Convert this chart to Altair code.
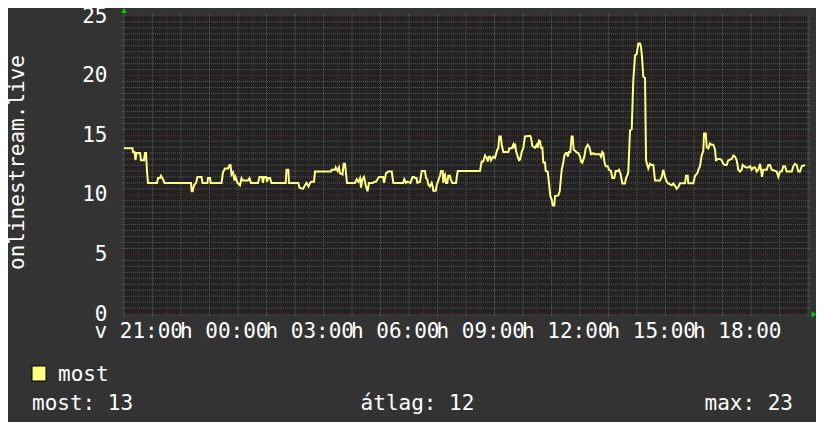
import altair as alt
import pandas as pd

# time = minutes since Sunday 20:30, value = listeners
seg_a_min = [0, 17.9, 18.9, 22.1, 24.2, 26.3, 33.7, 35.8, 42.1, 44.2, 46.3, 48.4, 50.5, 69.5, 71.6, 75.8, 77.9, 82.1, 85.3]
seg_a_val = [13.9, 13.9, 13.6, 13.6, 12.9, 13.5, 13.5, 12.9, 12.9, 13.5, 13.5, 12.0, 11.0, 11.0, 11.4, 11.4, 11.6, 11.3, 11.0]

seg_b_min = [141.1, 142.5, 144.6, 147.4, 151.6, 154.7, 163.2, 165.3, 175.8, 176.8, 181.1, 182.7, 205.3, 208.4, 212.6,
             218.9, 222.1, 224.2, 226.3, 229.5, 232.6, 234.7, 238.9, 244.2, 247.4, 250.5, 261.1, 264.2, 267.4, 275.8]
seg_b_val = [11.0, 10.3, 10.3, 10.8, 11.0, 11.5, 11.5, 11.0, 11.0, 11.4, 11.4, 11.0, 11.0, 11.9, 12.2,
             12.2, 12.5, 12.5, 11.7, 11.9, 11.2, 11.5, 11.0, 10.8, 11.4, 11.2, 11.2, 11.4, 11.0, 11.0]

seg_c_min = [282.1, 285.3, 290.5, 292.6, 294.7, 299.0, 301.1, 303.2, 307.4, 310.5, 340.4, 342.1, 345.9, 347.4, 367.0,
             369.5, 376.8, 381.1, 384.2, 388.4, 391.6, 394.7, 400.0, 402.1, 435.8, 437.3, 444.2, 445.7, 449.5, 452.6,
             454.7, 460.0, 462.5, 465.3, 467.4, 469.5, 486.3, 489.9, 493.3, 496.9, 499.0, 501.7, 505.3, 508.9, 512.6,
             515.8, 524.2, 527.4, 530.5, 536.8, 545.3, 547.4, 551.6, 556.4, 563.6, 567.0]
seg_c_val = [11.0, 11.5, 11.5, 11.0, 11.5, 11.5, 11.1, 11.4, 11.4, 11.0, 11.0, 12.1, 12.1, 11.0, 11.0,
             10.6, 10.5, 10.8, 11.0, 10.7, 11.0, 11.1, 11.1, 11.95, 11.95, 12.1, 12.1, 12.3, 12.0, 12.3,
             11.8, 11.7, 12.6, 12.6, 11.8, 11.0, 11.0, 11.3, 11.1, 11.4, 10.6, 11.3, 11.5, 10.8, 10.3,
             11.0, 11.0, 11.1, 11.1, 11.5, 11.5, 11.0, 11.8, 11.95, 11.95, 11.0]

seg_d_min = [588.0, 590.1, 593.7, 596.4, 603.2, 607.4, 610.5, 612.6, 615.8, 617.5, 623.2, 626.8, 633.7, 635.8, 638.5,
             640.7, 644.2, 647.8, 649.9, 651.2, 656.2, 658.3, 661.7, 665.3, 667.4, 671.0, 672.2, 674.3, 675.8, 677.9,
             680.6, 682.7, 686.3, 687.8, 691.2, 699.0, 702.5, 749.5, 753.1, 756.4, 760.0, 763.6, 765.7, 767.8, 770.5,
             772.6, 777.5, 781.1, 783.2, 785.9, 788.0, 790.1, 793.1, 795.2, 798.6, 809.1, 811.2, 816.2, 819.6, 821.1,
             823.2, 825.3, 828.9, 831.6, 833.7, 837.3, 840.6, 844.2, 854.8]
seg_d_val = [11.0, 11.3, 11.0, 11.1, 11.0, 11.5, 11.5, 11.4, 11.4, 11.0, 11.1, 12.0, 12.0, 11.4, 11.3,
             10.85, 10.7, 11.0, 10.7, 10.35, 10.35, 10.8, 11.2, 11.6, 12.0, 12.0, 11.0, 11.6, 11.7, 11.0,
             11.0, 11.6, 11.6, 11.3, 11.0, 11.0, 12.0, 12.0, 12.8, 12.8, 13.3, 13.1, 12.8, 13.2, 13.2,
             12.9, 13.2, 13.1, 13.4, 13.8, 13.9, 14.9, 14.9, 14.2, 13.6, 13.6, 13.9, 13.9, 14.2, 13.9,
             14.3, 13.7, 13.2, 12.9, 12.95, 13.6, 13.9, 14.9, 14.95]

seg_e_min = [856.9, 859.6, 865.3, 868.9, 870.9, 873.7, 875.8, 877.9, 880.7, 882.8, 886.3, 887.8, 892.0, 894.7, 897.5,
             900.4, 902.5, 905.9, 907.4, 914.3, 917.3, 921.5, 924.8, 927.0, 929.9, 932.6, 934.1, 936.8, 939.6, 942.5,
             944.6, 946.7, 949.5, 953.1, 956.4, 960.0, 962.1, 964.9, 969.1, 972.0, 976.2, 979.0, 981.1, 983.2, 988.0,
             991.6, 1002.1, 1004.2, 1007.0, 1009.1, 1011.2, 1014.1, 1018.3, 1021.1, 1025.3, 1028.0, 1032.2, 1035.2,
             1039.4, 1042.1, 1045.7, 1049.1, 1054.8, 1056.9, 1060.4]
seg_e_val = [14.8, 14.1, 13.95, 14.2, 13.95, 14.55, 14.5, 13.95, 13.95, 12.7, 12.7, 12.0, 11.95, 11.0, 9.9,
             9.6, 9.1, 9.1, 9.9, 9.95, 10.3, 12.1, 12.7, 13.3, 13.5, 13.5, 13.2, 13.6, 13.6, 14.9,
             14.9, 13.8, 13.7, 13.55, 13.5, 13.2, 12.8, 12.7, 13.2, 13.9, 14.2, 14.05, 13.8, 13.4, 13.5,
             13.4, 13.4, 13.2, 13.6, 13.5, 12.8, 12.4, 12.4, 12.1, 12.0, 11.4, 11.4, 12.0,
             12.0, 12.1, 11.7, 10.95, 10.95, 11.4, 11.7]

seg_f_min = [1061.7, 1065.3, 1068.9, 1072.2, 1075.8, 1079.4, 1082.8, 1086.3, 1088.4, 1090.5, 1093.3, 1096.9, 1099.0,
             1101.7, 1103.8, 1107.4, 1111.0, 1114.3, 1117.9, 1128.4, 1132.0, 1135.4, 1138.9, 1142.5, 1145.9, 1153.1,
             1156.4, 1160.0, 1163.6, 1166.9, 1170.5, 1181.1, 1183.2, 1186.7, 1188.0, 1198.5, 1202.1, 1207.0, 1209.1,
             1212.6, 1216.2, 1219.6, 1221.1, 1224.7, 1226.8, 1230.2, 1233.7, 1237.3, 1240.7, 1244.2, 1246.3, 1251.2,
             1254.7, 1258.3, 1261.7, 1265.3, 1268.8, 1272.2, 1279.4, 1282.8, 1286.3, 1289.9, 1293.3, 1296.8, 1300.4,
             1302.5, 1305.3, 1309.5, 1314.3, 1317.9, 1321.5, 1324.9, 1328.4, 1332.0, 1335.4, 1339.0, 1341.1, 1343.2,
             1345.9, 1353.1, 1356.4, 1360.0, 1363.6, 1374.1, 1377.5, 1381.1, 1384.6, 1388.0, 1391.6, 1395.2, 1405.7,
             1409.1, 1412.6, 1416.2, 1419.6, 1423.2, 1426.8, 1433.7]
seg_f_val = [11.95, 15.4, 15.5, 19.6, 21.7, 21.8, 22.7, 22.7, 22.4, 21.6, 19.9, 19.8, 12.9,
             12.5, 12.2, 12.6, 12.5, 12.5, 11.2, 11.2, 11.5, 12.1, 11.5, 11.1, 10.96, 10.8,
             10.96, 10.75, 10.5, 10.65, 10.96, 10.96, 11.6, 11.6, 10.96, 10.96, 11.6, 11.8, 12.1,
             12.4, 13.3, 13.7, 15.15, 15.15, 14.0, 13.9, 14.3, 14.2, 14.2, 13.8, 12.9, 13.0,
             13.0, 12.9, 12.6, 12.5, 12.5, 12.9, 13.0, 13.3, 13.2, 12.9, 12.1, 11.95, 12.1,
             12.5, 12.4, 12.3, 12.3, 12.4, 12.1, 12.3, 12.3, 11.95, 12.1, 12.6, 12.1, 11.5,
             12.1, 12.1, 12.5, 12.5, 12.1, 11.95, 11.5, 11.95, 11.95, 12.4, 12.4, 11.95, 11.95,
             12.4, 12.6, 12.5, 11.95, 11.95, 12.4, 12.5]

x_tick_minutes = [30, 210, 390, 570, 750, 930, 1110, 1290]
x_tick_labels = ["v 21:00", "h 00:00", "h 03:00", "h 06:00", "h 09:00", "h 12:00", "h 15:00", "h 18:00"]
y_ticks = [0, 5, 10, 15, 20, 25]
y_title = "onlinestream.live"
series_name = "most"
stat_names = ["most", "átlag", "max"]
stat_values = [13, 12, 23]

times = seg_a_min + seg_b_min + seg_c_min + seg_d_min + seg_e_min + seg_f_min
vals = seg_a_val + seg_b_val + seg_c_val + seg_d_val + seg_e_val + seg_f_val
assert len(times) == len(vals), (len(times), len(vals))
line_df = pd.DataFrame({"m": times, "v": vals})

# grid positions (data units)
minor_x = [m for m in range(0, 1441, 30) if (m - 30) % 60 != 0]
major_x = [m for m in range(30, 1440, 60)]
minor_y = [k / 2 for k in range(0, 51) if k % 10 != 0]
major_y = [k for k in range(0, 26, 5)]

FONT = "DejaVu Sans Mono"
WHITE = "#ffffff"
LINE_COLOR = "#ffff80"
MINOR_GRID = "#5a5a5a"
MAJOR_GRID = "#5c2c2c"
W, H = 684, 298

xscale = alt.Scale(domain=[0, 1440], nice=False, zero=False)
yscale = alt.Scale(domain=[0, 25], nice=False, zero=True)

label_expr = ("[" + ",".join("'" + l + "'" for l in x_tick_labels) + "][indexof(["
              + ",".join(str(v) for v in x_tick_minutes) + "], datum.value)]")

x_axis = alt.Axis(values=x_tick_minutes, labelExpr=label_expr, title=None, grid=False, domain=False,
                  ticks=False, tickSize=0, labelFont=FONT, labelFontSize=21, labelColor=WHITE,
                  labelPadding=6, labelFlush=False, labelOverlap=False, labelAlign="center",
                  labelBaseline="top")
y_axis = alt.Axis(values=y_ticks, format="d", title=y_title, grid=False, domain=False, ticks=False,
                  tickSize=0, labelFont=FONT, labelFontSize=21, labelColor=WHITE, labelPadding=17,
                  labelOverlap=False, labelFlush=False, titleFont=FONT, titleFontSize=21,
                  titleFontWeight="normal", titleColor=WHITE, titleAngle=270, titleX=-101, titleY=146,
                  titleAlign="center", titleBaseline="alphabetic")

X = lambda: alt.X("m:Q", scale=xscale, axis=x_axis)
Y = lambda: alt.Y("v:Q", scale=yscale, axis=y_axis)


def vgrid(pos, color):
    df = pd.DataFrame({"m": pos})
    base = alt.Chart(df)
    dotted = base.mark_rule(color=color, strokeWidth=1, strokeDash=[1, 1]).encode(x=X())
    top = base.mark_rule(color=color, strokeWidth=1).encode(x=X(), y=alt.value(-2), y2=alt.value(0))
    bot = base.mark_rule(color=color, strokeWidth=1).encode(x=X(), y=alt.value(H), y2=alt.value(H + 2))
    return [dotted, top, bot]


def hgrid(pos, color):
    df = pd.DataFrame({"v": pos})
    base = alt.Chart(df)
    dotted = base.mark_rule(color=color, strokeWidth=1, strokeDash=[1, 1]).encode(y=Y())
    left = base.mark_rule(color=color, strokeWidth=1).encode(y=Y(), x=alt.value(-2), x2=alt.value(0))
    right = base.mark_rule(color=color, strokeWidth=1).encode(y=Y(), x=alt.value(W), x2=alt.value(W + 2))
    return [dotted, left, right]


grid_layers = vgrid(minor_x, MINOR_GRID) + hgrid(minor_y, MINOR_GRID) + \
    vgrid(major_x, MAJOR_GRID) + hgrid(major_y, MAJOR_GRID)

line = alt.Chart(line_df).mark_line(color=LINE_COLOR, strokeWidth=2).encode(x=X(), y=Y())

one = pd.DataFrame({"name": [series_name]})
arrow_up = alt.Chart(one).mark_point(shape="triangle-up", filled=True, color="#00cc00", size=36,
                                     opacity=1).encode(x=alt.value(0), y=alt.value(-5.5))
arrow_right = alt.Chart(one).mark_point(shape="triangle-right", filled=True, color="#00cc00", size=36,
                                        opacity=1).encode(x=alt.value(690), y=alt.value(298.5))

legend_box = alt.Chart(one).mark_rect(color=LINE_COLOR, stroke="#000000", strokeWidth=1).encode(
    x=alt.value(-92), x2=alt.value(-78), y=alt.value(350), y2=alt.value(365))
legend_text = alt.Chart(one).mark_text(align="left", baseline="alphabetic", font=FONT, fontSize=21,
                                       color=WHITE).encode(x=alt.value(-66), y=alt.value(365),
                                                           text="name:N")

stat_layers = []
for name, val, align, xpos in zip(stat_names, stat_values, ["left", "center", "right"], [-92, 293.5, 669]):
    df = pd.DataFrame({"t": [f"{name}: {val}"]})
    stat_layers.append(alt.Chart(df).mark_text(align=align, baseline="alphabetic", font=FONT,
                                               fontSize=21, color=WHITE).encode(
        x=alt.value(xpos), y=alt.value(394), text="t:N"))

chart = alt.layer(*grid_layers, line, arrow_up, arrow_right,
                  legend_box, legend_text, *stat_layers).properties(
    width=W, height=H, background="#333333",
    padding={"left": 116, "top": 8, "right": 8, "bottom": 108},
    autosize=alt.AutoSizeParams(type="none"),
).configure_view(fill="#222222", strokeWidth=0)

chart.save("out.html", embed_options={"renderer": "svg", "actions": False})
